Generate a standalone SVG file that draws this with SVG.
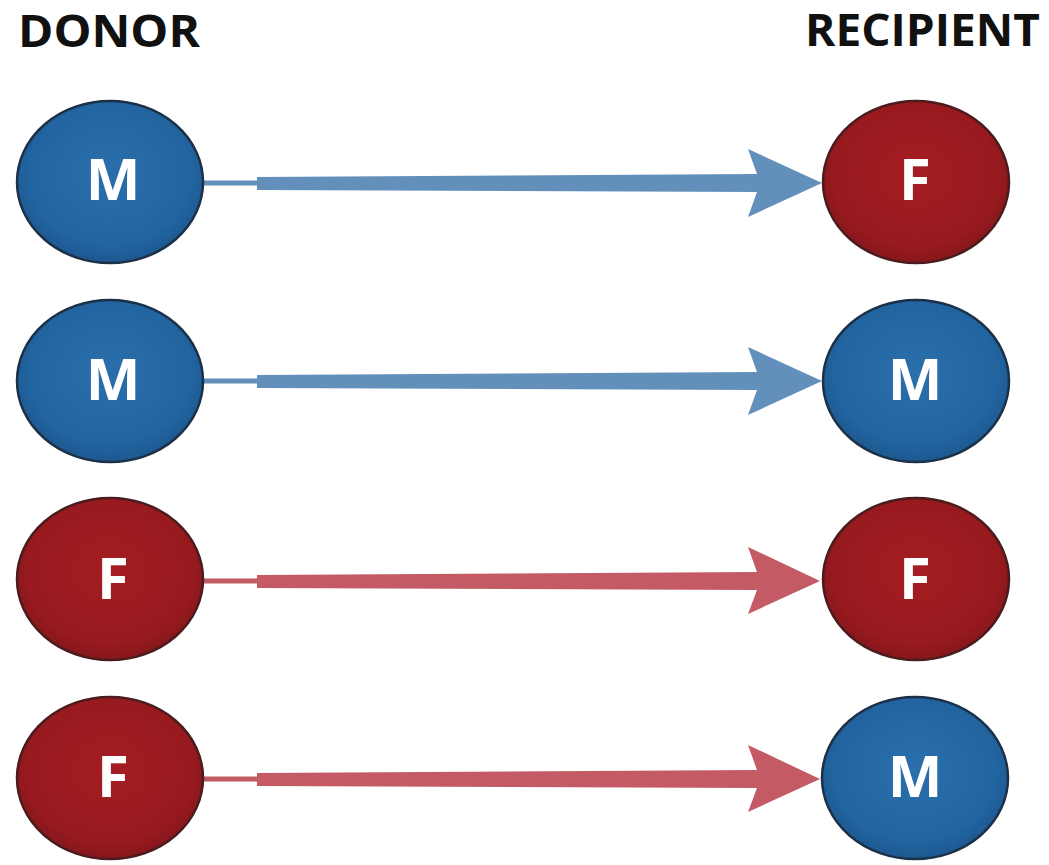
<svg xmlns="http://www.w3.org/2000/svg" width="1049" height="865" viewBox="0 0 1049 865">
<defs>
<radialGradient id="gBlue" cx="50%" cy="45%" r="55%">
<stop offset="0" stop-color="#2a6fab"/>
<stop offset="0.8" stop-color="#2164a0"/>
<stop offset="1" stop-color="#1d5890"/>
</radialGradient>
<radialGradient id="gRed" cx="50%" cy="45%" r="55%">
<stop offset="0" stop-color="#a41d22"/>
<stop offset="0.8" stop-color="#981a1f"/>
<stop offset="1" stop-color="#86171c"/>
</radialGradient>
</defs>
<style>
.title{font-family:"Open Sans","Liberation Sans",sans-serif;font-weight:700;font-size:44px;fill:#111}
.lbl{font-family:"Open Sans","Liberation Sans",sans-serif;font-weight:700;font-size:58px;fill:#fff;text-anchor:middle}
.blue{fill:url(#gBlue);stroke:#1c3147;stroke-width:2.5}
.red{fill:url(#gRed);stroke:#4a1c1e;stroke-width:2.5}
.ab{fill:#6390bb}
.ar{fill:#c45a63}
</style>
<rect width="1049" height="865" fill="#fff"/>
<text class="title" x="18" y="47" textLength="182" lengthAdjust="spacingAndGlyphs">DONOR</text>
<text class="title" x="805" y="46" textLength="235" lengthAdjust="spacingAndGlyphs">RECIPIENT</text>
<g id="connectors">
<polygon class="ab" points="204,180.5 257,180.5 257,177 757,174 748,149 822,183 748,217 757,192 257,190 257,185.5 204,185.5"/>
<polygon class="ab" points="204,378.5 257,378.5 257,375 757,372 748,347 822,381 748,415 757,390 257,388 257,383.5 204,383.5"/>
<polygon class="ar" points="204,578.5 257,578.5 257,575 757,572 748,547 820,581 748,614 757,590 257,588 257,583.5 204,583.5"/>
<polygon class="ar" points="204,776.5 257,776.5 257,773 757,770 748,745 820,779 748,812 757,788 257,786 257,781.5 204,781.5"/>
</g>
<g id="donor1"><ellipse class="blue" cx="110" cy="182" rx="93" ry="81"/><text class="lbl" x="113" y="200">M</text></g>
<g id="recipient1"><ellipse class="red" cx="916" cy="182" rx="93" ry="81"/><text class="lbl" x="915" y="200">F</text></g>
<g id="donor2"><ellipse class="blue" cx="110" cy="381" rx="93" ry="81"/><text class="lbl" x="113" y="400">M</text></g>
<g id="recipient2"><ellipse class="blue" cx="916" cy="381" rx="93" ry="81"/><text class="lbl" x="915" y="400">M</text></g>
<g id="donor3"><ellipse class="red" cx="110" cy="579" rx="93" ry="81"/><text class="lbl" x="113" y="599">F</text></g>
<g id="recipient3"><ellipse class="red" cx="916" cy="579" rx="93" ry="81"/><text class="lbl" x="915" y="599">F</text></g>
<g id="donor4"><ellipse class="red" cx="110" cy="778" rx="93" ry="81"/><text class="lbl" x="113" y="797">F</text></g>
<g id="recipient4"><ellipse class="blue" cx="915" cy="778" rx="93" ry="81"/><text class="lbl" x="915" y="797">M</text></g>
</svg>
